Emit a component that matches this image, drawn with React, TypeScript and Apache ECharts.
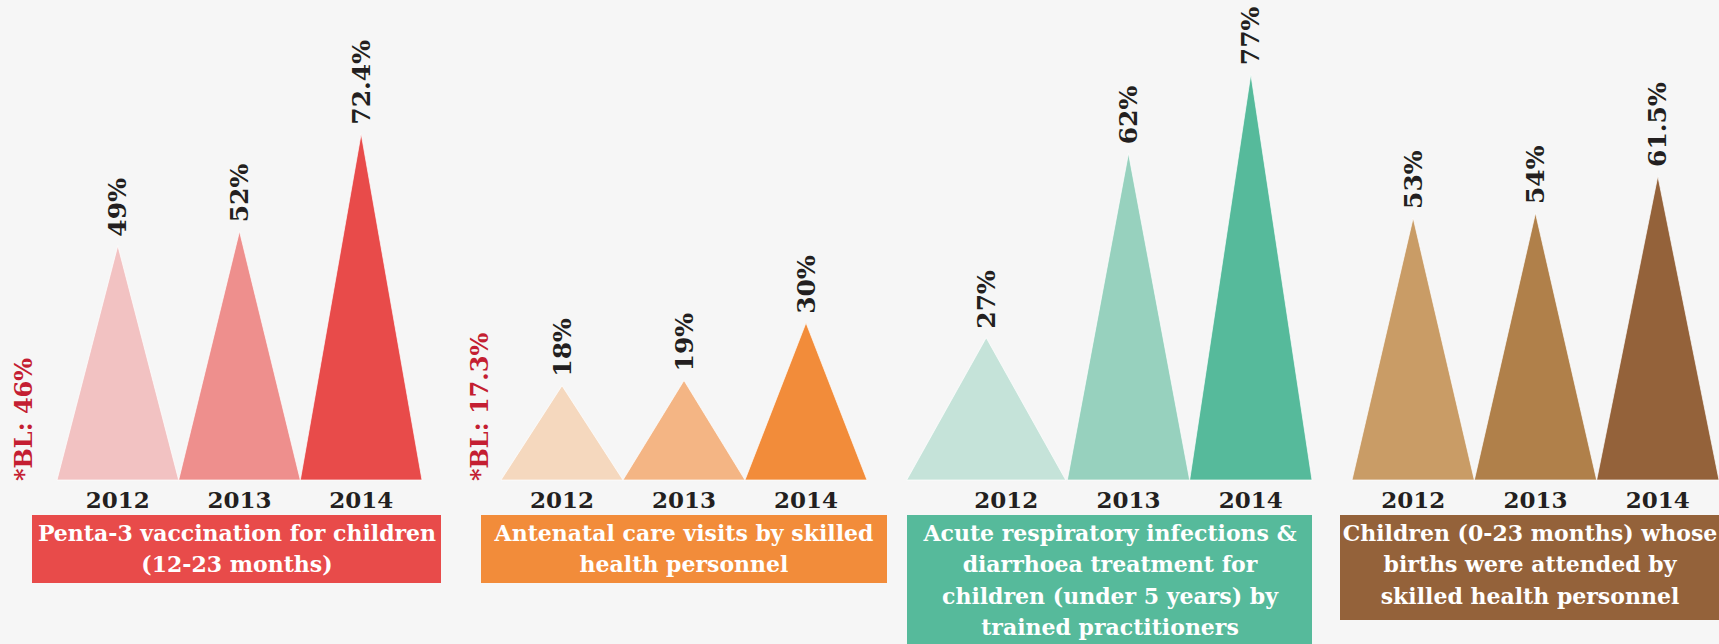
import React, { useEffect, useRef } from 'react';
import * as echarts from 'echarts';

// ---- data ----
const years = ['2012', '2013', '2014'];
const pentaValues = [49, 52, 72.4];
const antenatalValues = [18, 19, 30];
const ariValues = [27, 62, 77];
const birthsValues = [53, 54, 61.5];
const baselineLabels = ['*BL: 46%', '*BL: 17.3%', '', ''];
const groupTitles = [
  'Penta-3 vaccination for children\n(12-23 months)',
  'Antenatal care visits by skilled\nhealth personnel',
  'Acute respiratory infections &\ndiarrhoea treatment for\nchildren (under 5 years) by\ntrained practitioners',
  'Children (0-23 months) whose\nbirths were attended by\nskilled health personnel',
];

// ---- layout / style ----
const FONT = '"DejaVu Serif", serif';
const TEXT_DARK = '#231F20';
const BASE_Y = 480;
const GRID_TOP = 40;

const groups = [
  {
    values: pentaValues,
    left: 57, width: 365, max: 92,
    colors: ['#F2C2C2', '#EE8F8D', '#E84B4A'],
    widthFactor: [1, 1, 1], shift: [0, 0, 0],
    box: { x: 32, w: 409, h: 68, color: '#E84B4A', cx: 237 },
    bl: { x: 23 },
  },
  {
    values: antenatalValues,
    left: 501, width: 366, max: 84,
    colors: ['#F5D8BE', '#F4B584', '#F28C3A'],
    widthFactor: [1, 1, 1], shift: [0, 0, 0],
    box: { x: 481, w: 406, h: 68, color: '#F28C3A', cx: 684 },
    bl: { x: 479 },
  },
  {
    values: ariValues,
    left: 945, width: 367, max: 83.5,
    colors: ['#C5E3D9', '#97D1BE', '#56BA9B'],
    widthFactor: [1.3, 1, 1], shift: [-0.163, 0, 0],
    box: { x: 907, w: 405, h: 140, color: '#56BA9B', cx: 1110 },
    bl: { x: 0 },
  },
  {
    values: birthsValues,
    left: 1352, width: 367, max: 89,
    colors: ['#C99C66', '#B0804A', '#94623A'],
    widthFactor: [1, 1, 1], shift: [0, 0, 0],
    box: { x: 1340, w: 405, h: 105, color: '#94623A', cx: 1530 },
    bl: { x: 0 },
  },
];

function buildOption() {
  const grid: any[] = [];
  const xAxis: any[] = [];
  const yAxis: any[] = [];
  const series: any[] = [];
  const graphic: any[] = [];

  groups.forEach((g, gi) => {
    grid.push({ left: g.left, width: g.width, top: GRID_TOP, height: BASE_Y - GRID_TOP });
    xAxis.push({
      gridIndex: gi,
      type: 'category',
      data: years,
      axisLine: { show: false },
      axisTick: { show: false },
      splitLine: { show: false },
      axisLabel: {
        fontFamily: FONT,
        fontWeight: 'bold',
        fontSize: 23,
        color: TEXT_DARK,
        margin: 8,
      },
    });
    yAxis.push({ gridIndex: gi, type: 'value', min: 0, max: g.max, show: false });
    series.push({
      type: 'custom',
      xAxisIndex: gi,
      yAxisIndex: gi,
      clip: false,
      data: g.values.map((v, j) => [j, v]),
      encode: { x: 0, y: 1 },
      renderItem: (params: any, api: any) => {
        const j = params.dataIndex;
        const v = api.value(1);
        const top = api.coord([api.value(0), v]);
        const base = api.coord([api.value(0), 0]);
        const band = api.size([1, 0])[0];
        const w = band * g.widthFactor[j];
        const cx = top[0] + g.shift[j] * band;
        return {
          type: 'group',
          children: [
            {
              type: 'polygon',
              shape: { points: [[cx - w / 2, base[1]], [cx, top[1]], [cx + w / 2, base[1]]] },
              style: { fill: g.colors[j], stroke: 'rgba(255,255,255,0.7)', lineWidth: 1 },
            },
            {
              type: 'text',
              x: cx,
              y: top[1] - 9,
              rotation: Math.PI / 2,
              style: {
                text: v + '%',
                fill: TEXT_DARK,
                fontFamily: FONT,
                fontWeight: 'bold',
                fontSize: 25,
                align: 'left',
                verticalAlign: 'middle',
              },
            },
          ],
        };
      },
    });

    // category box
    graphic.push({
      type: 'rect',
      silent: true,
      shape: { x: g.box.x, y: 515, width: g.box.w, height: g.box.h },
      style: { fill: g.box.color },
    });
    graphic.push({
      type: 'text',
      silent: true,
      x: g.box.cx,
      y: 517,
      style: {
        text: groupTitles[gi],
        fill: '#FFFFFF',
        fontFamily: FONT,
        fontWeight: 'bold',
        fontSize: 22,
        lineHeight: 31.5,
        align: 'center',
        verticalAlign: 'top',
      },
    });
    if (baselineLabels[gi]) {
      graphic.push({
        type: 'text',
        silent: true,
        x: g.bl.x,
        y: 481,
        rotation: Math.PI / 2,
        style: {
          text: baselineLabels[gi],
          fill: '#C41E32',
          fontFamily: FONT,
          fontWeight: 'bold',
          fontSize: 24,
          align: 'left',
          verticalAlign: 'middle',
        },
      });
    }
  });

  return {
    animation: false,
    backgroundColor: '#F6F6F6',
    grid,
    xAxis,
    yAxis,
    series,
    graphic,
  };
}

export default function App() {
  const ref = useRef<HTMLDivElement>(null);
  useEffect(() => {
    if (!ref.current) return;
    const chart = echarts.init(ref.current, undefined, { renderer: 'svg' });
    chart.setOption(buildOption());
    return () => chart.dispose();
  }, []);
  return (
    <div
      ref={ref}
      style={{ position: 'fixed', left: 0, top: 0, width: 1719, height: 644, background: '#F6F6F6' }}
    />
  );
}
